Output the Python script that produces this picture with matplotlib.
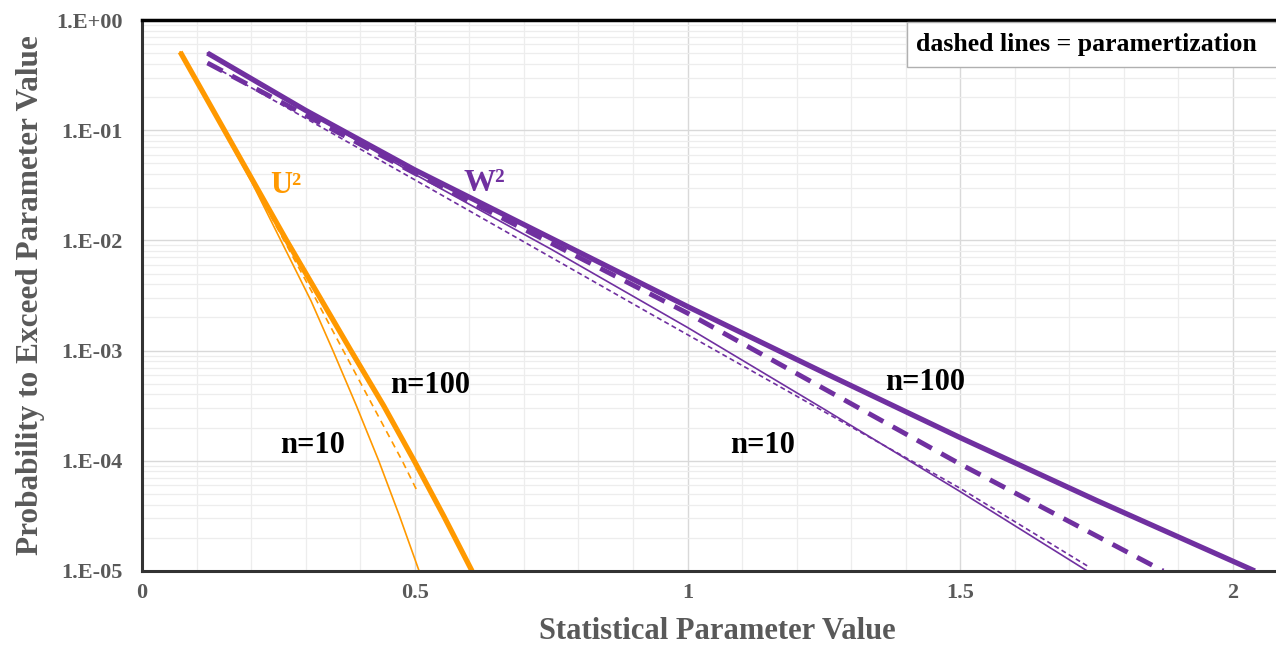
import numpy as np
import matplotlib.pyplot as plt
from matplotlib.ticker import FixedLocator, MultipleLocator, LogLocator, NullFormatter
from matplotlib.patches import Rectangle

# curves: x value, log10(probability)
u2_n100_x = [0.07, 0.265, 0.383, 0.443, 0.499, 0.553, 0.605]
u2_n100_lp = [-0.29, -2.0, -3.0, -3.5, -4.0, -4.5, -5.0]

u2_n10_x = [0.07, 0.2, 0.31, 0.350, 0.393, 0.434, 0.472, 0.508]
u2_n10_lp = [-0.29, -1.46, -2.55, -3.0, -3.5, -4.0, -4.5, -5.0]

u2_n10_par_x = [0.07, 0.2, 0.32, 0.369, 0.477, 0.506]
u2_n10_par_lp = [-0.29, -1.45, -2.545, -3.0, -4.0, -4.29]

w2_n100_x = [0.12, 0.3, 0.5, 0.75, 1.0, 1.25, 1.5, 1.75, 2.04]
w2_n100_lp = [-0.30, -0.82, -1.36, -1.98, -2.6, -3.2, -3.79, -4.36, -5.0]

w2_n100_par_x = [0.12, 0.5, 1.0, 1.5, 1.872]
w2_n100_par_lp = [-0.39, -1.39, -2.66, -4.03, -5.0]

w2_n10_x = [0.12, 0.5, 0.75, 1.0, 1.25, 1.5, 1.733]
w2_n10_lp = [-0.30, -1.40, -2.08, -2.79, -3.53, -4.28, -5.0]

w2_n10_par_x = [0.12, 0.5, 0.93, 1.5, 1.735]
w2_n10_par_lp = [-0.39, -1.45, -2.66, -4.25, -4.96]

ytick_vals = [1e0, 1e-1, 1e-2, 1e-3, 1e-4, 1e-5]
ytick_labels = ['1.E+00', '1.E-01', '1.E-02', '1.E-03', '1.E-04', '1.E-05']
xtick_vals = [0, 0.5, 1, 1.5, 2]
xtick_labels = ['0', '0.5', '1', '1.5', '2']

orange = '#FF9900'
purple = '#7030A0'
grey = '#595959'
serif = ['Liberation Serif', 'DejaVu Serif']

fig = plt.figure(figsize=(12.76, 6.46), dpi=100)
ax = fig.add_axes([142/1276, 1 - 571/646, (1276 - 142)/1276, (571 - 20)/646])

def p(lp):
    return 10.0 ** np.array(lp)

ax.plot(u2_n10_x, p(u2_n10_lp), color=orange, lw=1.2)
ax.plot(u2_n10_par_x, p(u2_n10_par_lp), color=orange, lw=1.2, ls=(0, (4, 3)))
ax.plot(u2_n100_x, p(u2_n100_lp), color=orange, lw=3.8, solid_capstyle='butt')

ax.plot(w2_n10_x, p(w2_n10_lp), color=purple, lw=1.2)
ax.plot(w2_n10_par_x, p(w2_n10_par_lp), color=purple, lw=1.2, ls=(0, (3, 2)))
ax.plot(w2_n100_par_x, p(w2_n100_par_lp), color=purple, lw=3.5, ls=(0, (3.5, 2.2)))
ax.plot(w2_n100_x, p(w2_n100_lp), color=purple, lw=3.8, solid_capstyle='butt')

ax.set_yscale('log')
ax.set_ylim(1e-5, 1)
ax.set_xlim(0, (1276 - 142) / 545.5)

ax.yaxis.set_major_locator(FixedLocator(ytick_vals))
ax.set_yticklabels(ytick_labels)
ax.yaxis.set_minor_locator(LogLocator(base=10, subs=np.arange(2, 10)))
ax.yaxis.set_minor_formatter(NullFormatter())
ax.xaxis.set_major_locator(FixedLocator(xtick_vals))
ax.set_xticklabels(xtick_labels)
ax.xaxis.set_minor_locator(MultipleLocator(0.1))

ax.grid(True, which='major', color='#d9d9d9', lw=1.0)
ax.grid(True, which='minor', color='#ededed', lw=0.9)
ax.set_axisbelow(True)
ax.tick_params(which='both', length=0)
ax.tick_params(axis='y', pad=14)
ax.tick_params(axis='x', pad=9)
for lab in ax.get_xticklabels() + ax.get_yticklabels():
    lab.set_family(serif)
    lab.set_fontweight('bold')
    lab.set_fontsize(16)
    lab.set_color(grey)

ax.spines['right'].set_visible(False)
ax.spines['top'].set_linewidth(2.5)
ax.spines['top'].set_color('black')
for s in ['left', 'bottom']:
    ax.spines[s].set_linewidth(2.2)
    ax.spines[s].set_color('#333333')

ax.set_xlabel('Statistical Parameter Value', family=serif, fontweight='bold',
              fontsize=22, color=grey)
ax.xaxis.set_label_coords(0.507, -0.083)
ax.set_ylabel('Probability to Exceed Parameter Value', family=serif, fontweight='bold',
              fontsize=22.5, color=grey, labelpad=8)

ax.text(0.264, 10 ** -1.5, 'U²', family=serif, fontweight='bold',
        fontsize=22, color=orange, ha='center', va='center')
ax.text(0.627, 10 ** -1.48, 'W²', family=serif, fontweight='bold',
        fontsize=23, color=purple, ha='center', va='center')
for tx, lx, ly in [('n=100', 0.528, -3.32), ('n=10', 0.313, -3.86),
                   ('n=10', 1.138, -3.86), ('n=100', 1.435, -3.29)]:
    ax.text(lx, 10 ** ly, tx, family=serif, fontweight='bold', fontsize=22,
            color='black', ha='center', va='center')

fig.patches.append(Rectangle((907/1276, 1 - 67/646), 400/1276, 45/646,
                             transform=fig.transFigure, facecolor='white',
                             edgecolor='#b0b0b0', lw=1.0, zorder=5))
fig.text(916/1276, 1 - 44/646, 'dashed lines = paramertization', family=serif,
         fontweight='bold', fontsize=18.5, color='black', va='center', ha='left', zorder=6)

plt.savefig('out.png', dpi=100)
